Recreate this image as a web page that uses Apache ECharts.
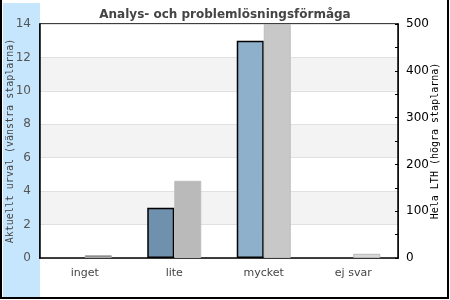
<!DOCTYPE html>
<html><head><meta charset="utf-8">
<script src="https://cdn.jsdelivr.net/npm/echarts@6/dist/echarts.min.js"></script>
<style>html,body{margin:0;padding:0;background:#fff}#c{width:450px;height:300px}</style>
</head><body><div id="c"></div>
<script>
var categories = ['inget', 'lite', 'mycket', 'ej svar'];
var urvalValues = [0, 3, 13, 0];
var lthValues = [6, 165, 500, 9];
var urvalColors = ['#7091ad', '#7091ad', '#8fb0cb', '#8fb0cb'];
var lthColors = ['#888888', '#bababa', '#c8c8c8', '#d8d8d8'];
var lthBorders = ['#a8a8a8', '#bdbdbd', '#bdbdbd', '#b8b8b8'];
var leftTicks = [0, 2, 4, 6, 8, 10, 12, 14];
var rightTicks = [0, 100, 200, 300, 400, 500];

var chart = echarts.init(document.getElementById('c'), null, {renderer: 'canvas'});
chart.setOption({
  animation: false,
  backgroundColor: '#fff',
  title: {
    text: 'Analys- och problemlösningsförmåga',
    left: 'center', top: 4,
    textStyle: {fontFamily: 'DejaVu Sans', fontSize: 12, fontWeight: 'bold', color: '#444'}
  },
  graphic: [
    {type: 'rect', z: -10, shape: {x: 3, y: 3, width: 37, height: 294}, style: {fill: '#c6e6fe'}},
    {type: 'polyline', z: 10, shape: {points: [[1, 0], [1, 298], [448, 298], [448, 0]]}, style: {stroke: '#000', lineWidth: 2, fill: null}}
  ],
  grid: {left: 40, right: 52, top: 24, bottom: 42, containLabel: false, outerBoundsMode: 'none',
    show: true, borderColor: '#000', borderWidth: 1.5, backgroundColor: 'transparent'},
  xAxis: {
    type: 'category', data: categories,
    axisLine: {lineStyle: {color: '#000', width: 1.5}},
    axisTick: {show: false},
    axisLabel: {margin: 10, fontFamily: 'DejaVu Sans', fontSize: 11, color: '#444'}
  },
  yAxis: [
    {
      type: 'value', min: 0, max: 14, interval: 2,
      name: 'Aktuellt urval (vänstra staplarna)', nameLocation: 'middle', nameGap: 25, nameRotate: 90,
      nameMoveOverlap: false,
      nameTextStyle: {fontFamily: 'DejaVu Sans Mono', fontSize: 10, color: '#444'},
      axisLine: {show: true, lineStyle: {color: '#000', width: 1.5}},
      axisTick: {show: false},
      axisLabel: {margin: 9, fontFamily: 'DejaVu Sans', fontSize: 12, color: '#555',
        formatter: function (v) { return leftTicks.indexOf(v) >= 0 ? String(v) : ''; }},
      splitLine: {show: true, lineStyle: {color: '#e0e0e0', width: 1}},
      splitArea: {show: true, areaStyle: {color: ['#ffffff', '#f3f3f3']}}
    },
    {
      type: 'value', min: 0, max: 500, interval: 100, position: 'right',
      name: 'Hela LTH (högra staplarna)', nameLocation: 'middle', nameGap: 32, nameRotate: 90,
      nameMoveOverlap: false,
      nameTextStyle: {fontFamily: 'DejaVu Sans Mono', fontSize: 10, color: '#000'},
      axisLine: {show: true, lineStyle: {color: '#000', width: 1.5}},
      axisTick: {show: true, inside: true, length: 3, lineStyle: {color: '#000'}},
      minorTick: {show: true, splitNumber: 2, length: 3, lineStyle: {color: '#000'}},
      axisLabel: {margin: 8, fontFamily: 'DejaVu Sans', fontSize: 12, color: '#000',
        formatter: function (v) { return rightTicks.indexOf(v) >= 0 ? String(v) : ''; }},
      splitLine: {show: false}
    }
  ],
  series: [
    {
      type: 'bar', yAxisIndex: 0, barWidth: 27, barGap: '0%',
      data: urvalValues.map(function (v, i) {
        return {value: v, itemStyle: {color: urvalColors[i], borderColor: '#000', borderWidth: v > 0 ? 1.5 : 0}};
      })
    },
    {
      type: 'bar', yAxisIndex: 1, barWidth: 27, barGap: '0%',
      data: lthValues.map(function (v, i) {
        return {value: v, itemStyle: {color: lthColors[i], borderColor: lthBorders[i], borderWidth: 1}};
      })
    }
  ]
});
</script></body></html>
